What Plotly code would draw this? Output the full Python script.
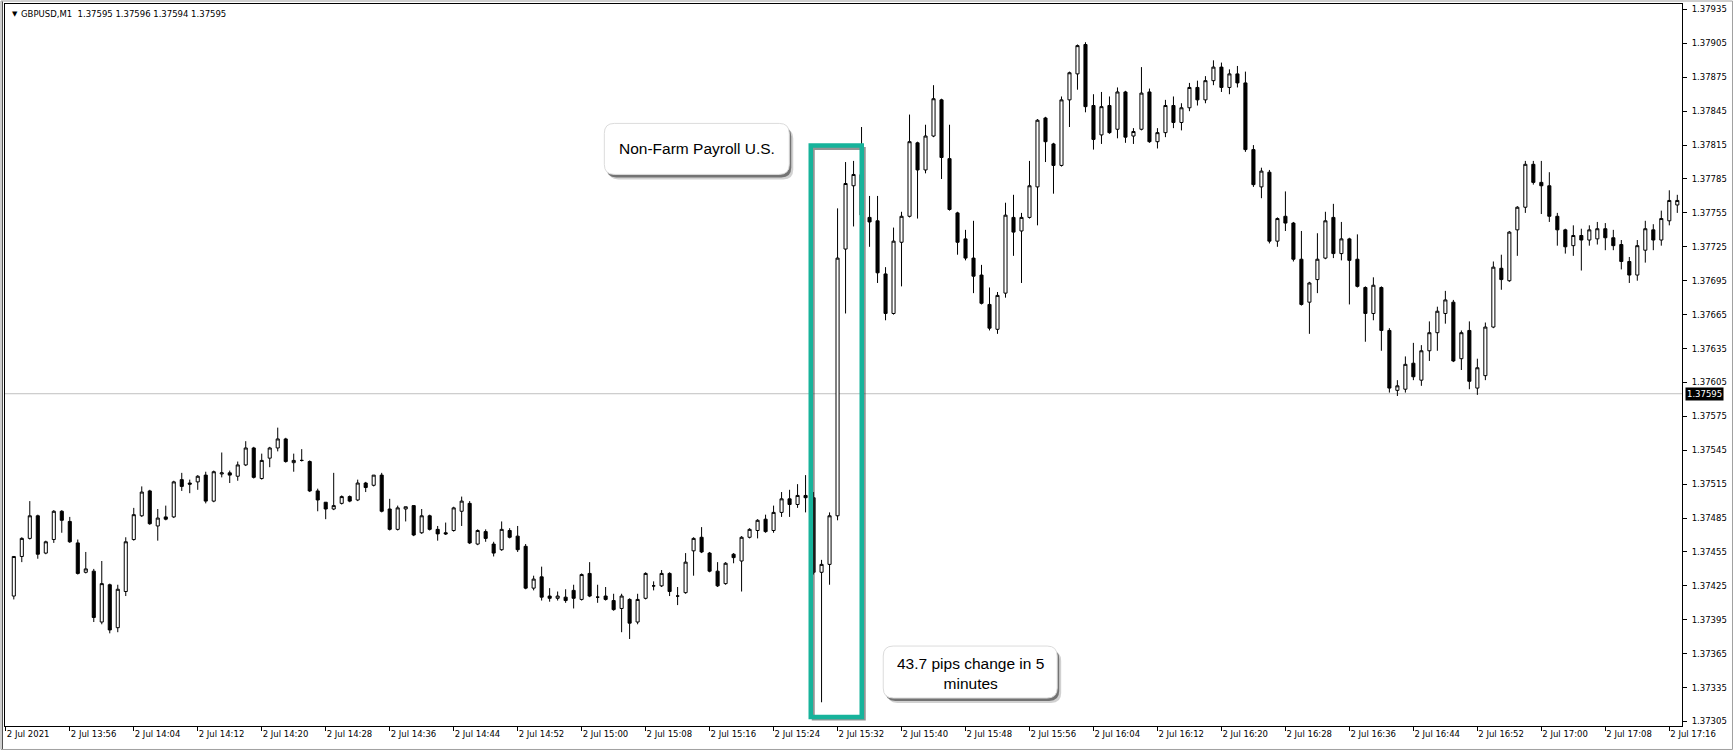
import plotly.graph_objects as go
import pandas as pd

# ---------------- data (GBPUSD M1, 2 Jul 2021) ----------------
times = pd.date_range("2021-07-02 13:49", periods=209, freq="min")

open_ = [
1.37416,1.37451,1.37467,1.37487,1.37454,1.37466,1.37491,1.37482,1.37463,1.37437,
1.37438,1.37393,1.37426,1.37388,1.37420,1.37466,1.37487,1.37509,1.37478,1.37486,
1.37486,1.37519,1.37516,1.37517,1.37523,1.37500,1.37524,1.37525,1.37522,1.37532,
1.37547,1.37520,1.37538,1.37547,1.37555,1.37534,1.37536,1.37535,1.37509,1.37499,
1.37493,1.37498,1.37504,1.37501,1.37516,1.37514,1.37523,1.37493,1.37475,1.37493,
1.37496,1.37472,1.37487,1.37475,1.37472,1.37474,1.37491,1.37498,1.37462,1.37473,
1.37462,1.37457,1.37474,1.37469,1.37460,1.37423,1.37433,1.37416,1.37414,1.37415,
1.37421,1.37413,1.37436,1.37415,1.37416,1.37412,1.37405,1.37413,1.37393,1.37414,
1.37425,1.37425,1.37436,1.37416,1.37419,1.37456,1.37468,1.37454,1.37438,1.37427,
1.37453,1.37447,1.37468,1.37474,1.37484,1.37474,1.37490,1.37502,1.37497,1.37505,
1.37503,1.37437,1.37444,1.37487,1.37723,1.37779,1.37789,1.37751,1.37748,1.37701,
1.37666,1.37729,1.37752,1.37817,1.37793,1.37823,1.37855,1.37803,1.37755,1.37732,
1.37715,1.37700,1.37674,1.37652,1.37684,1.37751,1.37739,1.37751,1.37778,1.37839,
1.37816,1.37797,1.37855,1.37878,1.37904,1.37850,1.37824,1.37850,1.37829,1.37862,
1.37823,1.37829,1.37862,1.37818,1.37826,1.37850,1.37835,1.37848,1.37866,1.37855,
1.37872,1.37884,1.37866,1.37878,1.37870,1.37811,1.37778,1.37791,1.37730,1.37752,
1.37746,1.37714,1.37676,1.37696,1.37715,1.37751,1.37719,1.37732,1.37714,1.37689,
1.37666,1.37689,1.37651,1.37598,1.37599,1.37622,1.37607,1.37633,1.37649,1.37666,
1.37676,1.37626,1.37651,1.37600,1.37611,1.37654,1.37706,1.37695,1.37740,1.37760,
1.37798,1.37782,1.37779,1.37752,1.37740,1.37726,1.37735,1.37731,1.37732,1.37741,
1.37733,1.37727,1.37712,1.37700,1.37722,1.37740,1.37731,1.37748,1.37762]

high = [
1.37451,1.37468,1.37500,1.37488,1.37465,1.37492,1.37492,1.37486,1.37466,1.37455,
1.37440,1.37447,1.37427,1.37426,1.37468,1.37494,1.37513,1.37510,1.37493,1.37496,
1.37518,1.37525,1.37519,1.37523,1.37526,1.37527,1.37543,1.37527,1.37535,1.37553,
1.37548,1.37542,1.37548,1.37565,1.37556,1.37542,1.37546,1.37536,1.37511,1.37499,
1.37525,1.37505,1.37505,1.37519,1.37517,1.37523,1.37525,1.37502,1.37496,1.37495,
1.37496,1.37493,1.37488,1.37478,1.37481,1.37495,1.37504,1.37500,1.37475,1.37475,
1.37464,1.37482,1.37476,1.37478,1.37462,1.37434,1.37442,1.37423,1.37420,1.37422,
1.37426,1.37436,1.37446,1.37426,1.37424,1.37418,1.37418,1.37414,1.37418,1.37437,
1.37429,1.37439,1.37437,1.37424,1.37454,1.37468,1.37477,1.37455,1.37446,1.37446,
1.37454,1.37469,1.37476,1.37484,1.37488,1.37496,1.37508,1.37510,1.37515,1.37523,
1.37508,1.37448,1.37490,1.37759,1.37800,1.37801,1.37831,1.37770,1.37770,1.37707,
1.37742,1.37756,1.37842,1.37818,1.37833,1.37868,1.37856,1.37833,1.37756,1.37740,
1.37748,1.37709,1.37689,1.37685,1.37764,1.37771,1.37755,1.37801,1.37838,1.37840,
1.37817,1.37858,1.37880,1.37904,1.37906,1.37860,1.37862,1.37858,1.37866,1.37863,
1.37830,1.37884,1.37865,1.37830,1.37855,1.37858,1.37852,1.37870,1.37872,1.37876,
1.37890,1.37888,1.37882,1.37885,1.37880,1.37815,1.37795,1.37793,1.37751,1.37774,
1.37747,1.37739,1.37694,1.37737,1.37756,1.37763,1.37747,1.37733,1.37736,1.37690,
1.37698,1.37690,1.37653,1.37607,1.37628,1.37640,1.37638,1.37659,1.37672,1.37686,
1.37678,1.37651,1.37659,1.37626,1.37658,1.37712,1.37718,1.37739,1.37761,1.37801,
1.37801,1.37801,1.37791,1.37755,1.37741,1.37744,1.37741,1.37744,1.37747,1.37746,
1.37740,1.37731,1.37716,1.37731,1.37748,1.37745,1.37757,1.37775,1.37771]

low = [
1.37413,1.37446,1.37466,1.37449,1.37453,1.37463,1.37472,1.37463,1.37435,1.37436,
1.37393,1.37391,1.37383,1.37384,1.37416,1.37465,1.37486,1.37479,1.37465,1.37483,
1.37485,1.37509,1.37507,1.37510,1.37498,1.37499,1.37521,1.37516,1.37518,1.37531,
1.37520,1.37519,1.37530,1.37544,1.37534,1.37526,1.37535,1.37508,1.37491,1.37484,
1.37492,1.37497,1.37499,1.37500,1.37508,1.37513,1.37490,1.37474,1.37474,1.37482,
1.37469,1.37471,1.37474,1.37465,1.37470,1.37473,1.37478,1.37462,1.37461,1.37464,
1.37451,1.37456,1.37467,1.37455,1.37422,1.37421,1.37412,1.37411,1.37412,1.37410,
1.37405,1.37412,1.37415,1.37410,1.37412,1.37403,1.37384,1.37378,1.37391,1.37413,
1.37421,1.37424,1.37416,1.37408,1.37418,1.37434,1.37454,1.37437,1.37424,1.37426,
1.37445,1.37420,1.37467,1.37467,1.37472,1.37472,1.37486,1.37486,1.37494,1.37490,
1.37435,1.37322,1.37426,1.37483,1.37666,1.37743,1.37752,1.37725,1.37693,1.37660,
1.37665,1.37690,1.37751,1.37750,1.37790,1.37822,1.37785,1.37757,1.37718,1.37713,
1.37684,1.37674,1.37651,1.37648,1.37680,1.37717,1.37693,1.37750,1.37744,1.37800,
1.37772,1.37796,1.37831,1.37864,1.37844,1.37811,1.37816,1.37825,1.37821,1.37817,
1.37816,1.37828,1.37817,1.37812,1.37822,1.37830,1.37828,1.37845,1.37850,1.37852,
1.37868,1.37862,1.37860,1.37866,1.37809,1.37778,1.37768,1.37728,1.37725,1.37739,
1.37712,1.37673,1.37648,1.37684,1.37714,1.37715,1.37713,1.37674,1.37689,1.37641,
1.37660,1.37633,1.37596,1.37593,1.37596,1.37607,1.37602,1.37624,1.37633,1.37657,
1.37623,1.37616,1.37599,1.37594,1.37607,1.37653,1.37687,1.37694,1.37717,1.37755,
1.37780,1.37754,1.37747,1.37726,1.37719,1.37717,1.37704,1.37726,1.37727,1.37722,
1.37722,1.37705,1.37693,1.37695,1.37711,1.37722,1.37726,1.37744,1.37755]

close = [
1.37451,1.37467,1.37487,1.37453,1.37464,1.37491,1.37483,1.37464,1.37436,1.37440,
1.37397,1.37427,1.37386,1.37422,1.37464,1.37488,1.37508,1.37480,1.37485,1.37484,
1.37517,1.37513,1.37515,1.37522,1.37500,1.37526,1.37525,1.37523,1.37532,1.37547,
1.37521,1.37536,1.37547,1.37555,1.37535,1.37536,1.37536,1.37509,1.37501,1.37493,
1.37496,1.37504,1.37500,1.37516,1.37512,1.37523,1.37491,1.37475,1.37494,1.37495,
1.37470,1.37487,1.37475,1.37471,1.37471,1.37494,1.37500,1.37463,1.37474,1.37467,
1.37454,1.37475,1.37468,1.37457,1.37423,1.37431,1.37415,1.37414,1.37416,1.37412,
1.37414,1.37435,1.37416,1.37415,1.37413,1.37404,1.37416,1.37392,1.37413,1.37436,
1.37425,1.37436,1.37420,1.37416,1.37446,1.37467,1.37455,1.37438,1.37425,1.37445,
1.37450,1.37468,1.37475,1.37483,1.37473,1.37490,1.37502,1.37497,1.37505,1.37503,
1.37437,1.37444,1.37487,1.37715,1.37781,1.37789,1.37753,1.37747,1.37702,1.37666,
1.37730,1.37752,1.37818,1.37793,1.37823,1.37856,1.37804,1.37758,1.37729,1.37715,
1.37699,1.37675,1.37653,1.37682,1.37753,1.37738,1.37751,1.37779,1.37837,1.37818,
1.37797,1.37855,1.37879,1.37903,1.37849,1.37820,1.37849,1.37826,1.37862,1.37822,
1.37827,1.37861,1.37818,1.37826,1.37850,1.37835,1.37848,1.37866,1.37855,1.37872,
1.37884,1.37866,1.37878,1.37870,1.37811,1.37780,1.37792,1.37730,1.37750,1.37746,
1.37714,1.37674,1.37693,1.37714,1.37748,1.37719,1.37732,1.37713,1.37690,1.37666,
1.37691,1.37651,1.37600,1.37602,1.37621,1.37610,1.37633,1.37649,1.37668,1.37678,
1.37624,1.37649,1.37606,1.37618,1.37654,1.37707,1.37696,1.37738,1.37760,1.37798,
1.37782,1.37779,1.37752,1.37740,1.37725,1.37735,1.37731,1.37740,1.37741,1.37733,
1.37726,1.37712,1.37700,1.37726,1.37741,1.37731,1.37750,1.37766,1.37766]

tick_times = pd.date_range("2021-07-02 13:48", "2021-07-02 17:16", freq="8min")
tick_text = ["2 Jul 2021"] + ["2 Jul " + t.strftime("%H:%M") for t in tick_times[1:]]

price_ticks = [round(1.37305 + 0.0003 * k, 5) for k in range(22)]
price_text = [f"{p:.5f}" for p in price_ticks]

symbol_header = "GBPUSD,M1\u00a0\u00a01.37595 1.37596 1.37594 1.37595"
bid_price = 1.37595
note_event = "Non-Farm Payroll U.S."
note_move = "43.7 pips change in 5<br>minutes"

# ---------------- layout geometry (pixels) ----------------
W, H = 1733, 750
L, R, T, B = 4.5, 1682.0, 3.5, 726.0
BAR0_PX, BAR_STEP = 13.3, 8.0

def X(p):
    return (p - L) / (R - L)

def Y(p):
    return (B - p) / (B - T)

def rounded(x0, y0, x1, y1, r):
    return (f"M {X(x0+r)},{Y(y0)} L {X(x1-r)},{Y(y0)} Q {X(x1)},{Y(y0)} {X(x1)},{Y(y0+r)} "
            f"L {X(x1)},{Y(y1-r)} Q {X(x1)},{Y(y1)} {X(x1-r)},{Y(y1)} "
            f"L {X(x0+r)},{Y(y1)} Q {X(x0)},{Y(y1)} {X(x0)},{Y(y1-r)} "
            f"L {X(x0)},{Y(y0+r)} Q {X(x0)},{Y(y0)} {X(x0+r)},{Y(y0)} Z")

t0 = times[0]
x_left = t0 + pd.Timedelta(minutes=(L - BAR0_PX) / BAR_STEP)
x_right = t0 + pd.Timedelta(minutes=(R - BAR0_PX) / BAR_STEP)
y_low = bid_price - (B - 393.5) / 11.31 * 0.0001
y_high = bid_price + (393.5 - T) / 11.31 * 0.0001

FONT = "DejaVu Sans"

fig = go.Figure(go.Candlestick(
    x=times, open=open_, high=high, low=low, close=close,
    increasing=dict(line=dict(color="black", width=1), fillcolor="white"),
    decreasing=dict(line=dict(color="black", width=1), fillcolor="black"),
    whiskerwidth=0, hoverinfo="skip", showlegend=False,
))

shapes = []
# bid line
shapes.append(dict(type="line", xref="paper", yref="y", x0=0, x1=1, y0=bid_price, y1=bid_price,
                   line=dict(color="#c0c0c0", width=1), layer="below"))
# teal highlight rectangle with shadow
shapes.append(dict(type="rect", xref="paper", yref="paper",
                   x0=X(813), x1=X(864), y0=Y(148), y1=Y(719),
                   line=dict(color="rgba(60,60,60,0.55)", width=3)))
shapes.append(dict(type="rect", xref="paper", yref="paper",
                   x0=X(810.5), x1=X(861.5), y0=Y(145), y1=Y(717),
                   line=dict(color="#17b39b", width=4.5)))
# callout boxes with soft shadow
for (x0, y0, x1, y1) in [(604, 123, 789, 174), (883, 646, 1057, 698)]:
    shapes.append(dict(type="path", xref="paper", yref="paper",
                       path=rounded(x0 + 4, y0 + 5, x1 + 4, y1 + 5, 10),
                       fillcolor="rgba(0,0,0,0.18)", line=dict(width=0)))
    shapes.append(dict(type="path", xref="paper", yref="paper",
                       path=rounded(x0 + 2, y0 + 3, x1 + 2, y1 + 3, 10),
                       fillcolor="rgba(0,0,0,0.45)", line=dict(width=0)))
    shapes.append(dict(type="path", xref="paper", yref="paper",
                       path=rounded(x0, y0, x1, y1, 10),
                       fillcolor="white", line=dict(color="#dcdcdc", width=1)))
# outer window frame
shapes.append(dict(type="rect", xref="paper", yref="paper",
                   x0=X(0.5), x1=X(W - 0.5), y0=Y(0.5), y1=Y(H - 0.5),
                   line=dict(color="#a0a0a0", width=1)))
shapes.append(dict(type="line", xref="paper", yref="paper",
                   x0=X(2), x1=X(2), y0=Y(1), y1=Y(H - 1),
                   line=dict(color="#505050", width=1)))

annotations = [
    dict(xref="paper", yref="paper", x=X(696.5), y=Y(148.5), xanchor="center", yanchor="middle",
         text=note_event, showarrow=False,
         font=dict(family="Liberation Sans", size=15.5, color="black")),
    dict(xref="paper", yref="paper", x=X(970), y=Y(673), xanchor="center", yanchor="middle",
         text=note_move, showarrow=False, align="center",
         font=dict(family="Liberation Sans", size=15.5, color="black")),
    dict(xref="paper", yref="paper", x=X(10), y=Y(14), xanchor="left", yanchor="middle",
         text="\u25bc", showarrow=False, font=dict(family=FONT, size=7, color="black")),
    dict(xref="paper", yref="paper", x=X(19), y=Y(14), xanchor="left", yanchor="middle",
         text=symbol_header, showarrow=False, font=dict(family=FONT, size=8.5, color="black")),
    dict(xref="paper", yref="y", x=1, y=bid_price, xanchor="left", yanchor="middle", xshift=3,
         text=f"{bid_price:.5f}", showarrow=False, bgcolor="black", borderpad=1,
         font=dict(family=FONT, size=8.5, color="white")),
]

fig.update_layout(
    width=W, height=H,
    margin=dict(l=L, r=W - R, t=T, b=H - B, pad=0),
    paper_bgcolor="white", plot_bgcolor="white",
    boxgap=0.45,
    shapes=shapes, annotations=annotations,
    xaxis=dict(
        type="date", range=[x_left, x_right], rangeslider=dict(visible=False),
        tickvals=list(tick_times), ticktext=tick_text, ticklabelposition="outside right",
        ticks="outside", ticklen=4, tickcolor="black", showgrid=False, zeroline=False,
        showline=True, linecolor="black", linewidth=1, mirror=True,
        tickfont=dict(family=FONT, size=8.5, color="black"),
    ),
    yaxis=dict(
        side="right", range=[y_low, y_high], tickvals=price_ticks, ticktext=price_text,
        ticks="outside", ticklen=4, tickcolor="black", showgrid=False, zeroline=False,
        showline=True, linecolor="black", linewidth=1, mirror=True, ticklabelstandoff=3,
        tickfont=dict(family=FONT, size=8.5, color="black"),
    ),
)

fig.write_html(
    "out.html",
    config={"displayModeBar": False},
    post_script="document.body.style.margin='0';document.body.style.overflow='hidden';",
)
